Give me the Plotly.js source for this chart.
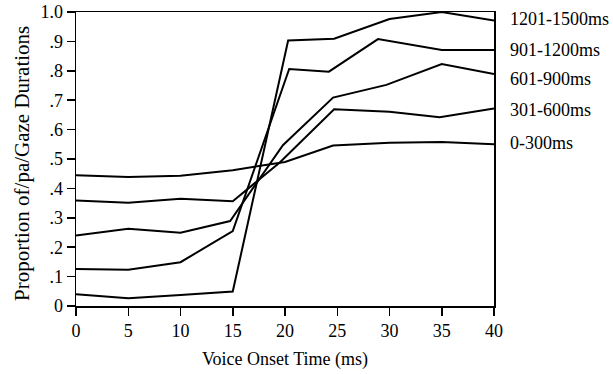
<!DOCTYPE html>
<html>
<head>
<meta charset="utf-8">
<script src="https://cdn.plot.ly/plotly-3.0.1.min.js"></script>
<style>html,body{margin:0;padding:0;background:#fff;}#chart{width:613px;height:374px;}</style>
</head>
<body>
<div id="chart"></div>
<script>
// Series names (labels at right)
const seriesNames = ["0-300ms", "301-600ms", "601-900ms", "901-1200ms", "1201-1500ms"];

// x positions (Voice Onset Time, ms) as read per series
const x_0_300     = [0, 5, 10, 15, 20, 24.6, 30, 35, 40];
const x_301_600   = [0, 5, 10, 15, 19.5, 24.7, 30, 34.8, 40];
const x_601_900   = [0, 5, 10, 14.75, 19.8, 24.6, 29.7, 35, 40];
const x_901_1200  = [0, 5, 10, 15, 20.4, 24.2, 28.9, 35, 40];
const x_1201_1500 = [0, 5, 10, 15, 20.3, 24.7, 30, 35, 40];

// Proportion values
const y_0_300     = [0.445, 0.439, 0.443, 0.462, 0.490, 0.546, 0.555, 0.558, 0.550];
const y_301_600   = [0.359, 0.351, 0.365, 0.356, 0.488, 0.669, 0.661, 0.642, 0.672];
const y_601_900   = [0.240, 0.263, 0.249, 0.289, 0.547, 0.709, 0.752, 0.823, 0.789];
const y_901_1200  = [0.126, 0.123, 0.149, 0.255, 0.806, 0.797, 0.908, 0.871, 0.871];
const y_1201_1500 = [0.040, 0.026, 0.037, 0.049, 0.903, 0.909, 0.976, 1.000, 0.971];

const xTickVals = [0, 5, 10, 15, 20, 25, 30, 35, 40];
const xTickText = ["0", "5", "10", "15", "20", "25", "30", "35", "40"];
const yTickVals = [0, 0.1, 0.2, 0.3, 0.4, 0.5, 0.6, 0.7, 0.8, 0.9, 1.0];
const yTickText = ["0", ".1", ".2", ".3", ".4", ".5", ".6", ".7", ".8", ".9", "1.0"];

const xTitle = "Voice Onset Time (ms)";
const yTitle = "Proportion of/pa/Gaze Durations";

const xs = [x_0_300, x_301_600, x_601_900, x_901_1200, x_1201_1500];
const ys = [y_0_300, y_301_600, y_601_900, y_901_1200, y_1201_1500];

const FONT = "'Liberation Serif', 'Times New Roman', Times, serif";

const traces = seriesNames.map((name, i) => ({
  type: "scatter",
  mode: "lines",
  name: name,
  x: xs[i],
  y: ys[i],
  line: {color: "#000", width: 2},
  cliponaxis: false,
  hoverinfo: "skip"
}));

// label vertical nudges (pixels, positive = up) relative to each series' final value
const labelShift = [1, -2, -5, 0, 1.5];
const annotations = seriesNames.map((name, i) => ({
  xref: "paper", yref: "y",
  x: 1, y: ys[i][ys[i].length - 1],
  xanchor: "left", yanchor: "middle",
  xshift: 14, yshift: labelShift[i],
  text: name, showarrow: false,
  font: {family: FONT, size: 18, color: "#000"}
}));
// y-axis title as rotated annotation, centred next to the plot area
annotations.push({
  xref: "paper", yref: "paper", x: 0, y: 0.5,
  xanchor: "center", yanchor: "middle", xshift: -54, yshift: -5,
  textangle: -90, text: yTitle, showarrow: false,
  font: {family: FONT, size: 21, color: "#000"}
});

const layout = {
  width: 613, height: 374,
  margin: {l: 76, r: 119, t: 12, b: 68, pad: 0},
  paper_bgcolor: "#fff", plot_bgcolor: "#fff",
  showlegend: false,
  font: {family: FONT, size: 18, color: "#000"},
  xaxis: {
    range: [0, 40], tickmode: "array", tickvals: xTickVals, ticktext: xTickText,
    ticks: "outside", ticklen: 8, tickwidth: 1.5, tickcolor: "#000",
    showline: true, linecolor: "#000", linewidth: 1.5, mirror: true,
    showgrid: false, zeroline: false,
    tickfont: {family: FONT, size: 18, color: "#000"},
    title: {text: xTitle, font: {family: FONT, size: 18, color: "#000"}, standoff: 12}
  },
  yaxis: {
    range: [0, 1], tickmode: "array", tickvals: yTickVals, ticktext: yTickText,
    ticks: "outside", ticklen: 8, tickwidth: 1.5, tickcolor: "#000",
    showline: true, linecolor: "#000", linewidth: 1.5, mirror: true,
    showgrid: false, zeroline: false,
    tickfont: {family: FONT, size: 18, color: "#000"}
  },
  annotations: annotations
};

Plotly.newPlot("chart", traces, layout, {staticPlot: true, displayModeBar: false});
</script>
</body>
</html>
